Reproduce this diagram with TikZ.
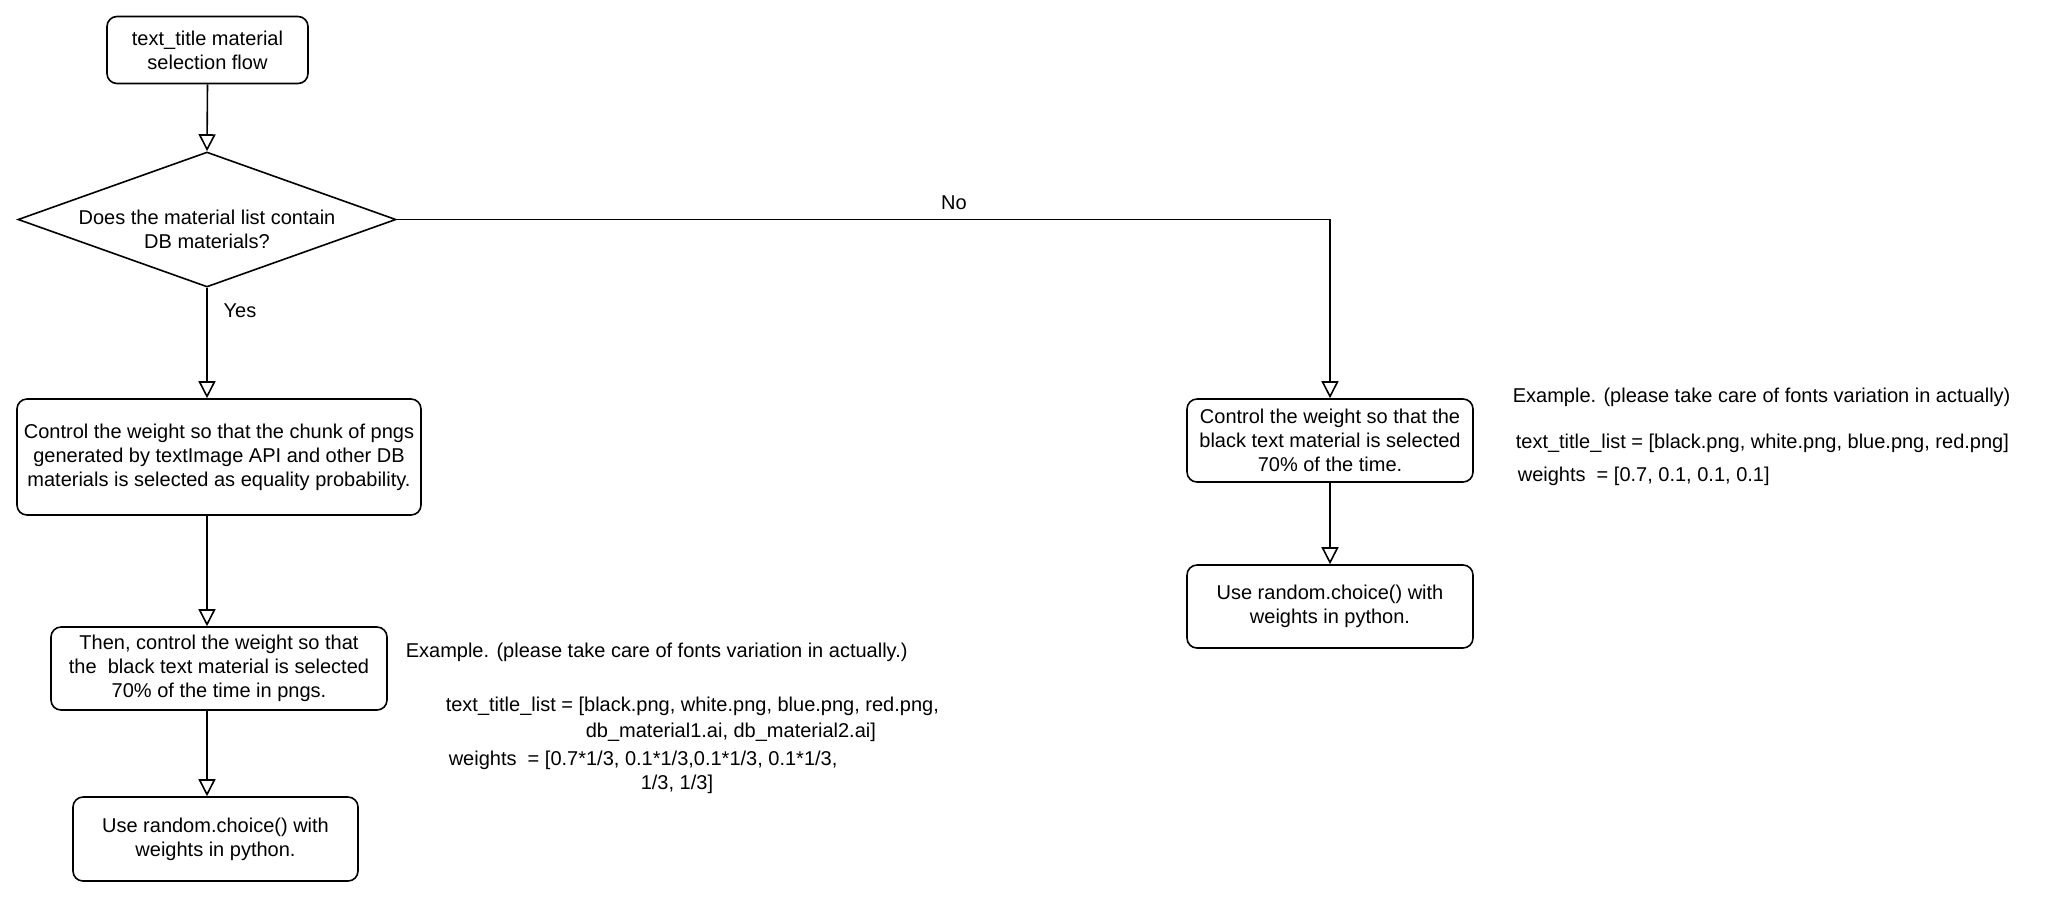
\documentclass[tikz,border=0pt]{standalone}
\usepackage{fontspec}
\setmainfont{Liberation Sans}
\usepackage{tikz}
\usetikzlibrary{arrows.meta}
\usetikzlibrary{positioning}
\usetikzlibrary{shapes.geometric}

\begin{document}
\begin{tikzpicture}[x=0.5pt,y=-0.5pt,line width=0.8pt,
    font=\fontsize{10}{12}\selectfont,
    box/.style={draw,rounded corners=5pt,align=center,inner sep=2pt},
    decision/.style={draw,diamond,inner sep=0pt,minimum width=189pt,minimum height=67.5pt},
    flow/.style={-{Triangle[open,length=8.5pt,width=8.5pt]}},
    lbl/.style={inner sep=0pt},
    code/.style={inner sep=0pt,anchor=west}]
  \useasboundingbox (0,0) rectangle (2048,901);
  \node[box,minimum width=100.5pt,minimum height=33.5pt](title) at (207.5,50) {text\_title material\\selection flow};
  \node[decision](dia) at (207,219.5) {};
  \node[align=center,inner sep=0pt](diatxt) at (207,229) {Does the material list contain\\DB materials?};
  \node[box,minimum width=202pt,minimum height=58pt](chunk) at (219,457) {Control the weight so that the chunk of pngs\\generated by textImage API and other DB\\materials is selected as equality probability.};
  \node[box,minimum width=168pt,minimum height=41.5pt](pick) at (219,668.5) {Then, control the weight so that\\the \ black text material is selected\\70\% of the time in pngs.};
  \node[box,minimum width=142.5pt,minimum height=42pt](usel) at (215.5,839) {Use random.choice() with\\weights in python.};
  \node[box,minimum width=143pt,minimum height=41.5pt](black) at (1330,440.5) {Control the weight so that the\\black text material is selected\\70\% of the time.};
  \node[box,minimum width=143pt,minimum height=41.5pt](user) at (1330,606.5) {Use random.choice() with\\weights in python.};

  \node[lbl](yes) at (240,311) {Yes};
  \node[lbl](no) at (954,203) {No};

  \draw[flow] (title.south) -- (dia.north);
  \draw[flow] (dia.south) -- (dia.south |- chunk.north);
  \draw[flow] (dia.south |- chunk.south) -- (dia.south |- pick.north);
  \draw[flow] (dia.south |- pick.south) -- (dia.south |- usel.north);
  \draw[flow] (dia.east) -| (black.north);
  \draw[flow] (black.south) -- (user.north);

  \node[code](exa) at (405,652) {Example. (please take care of fonts variation in actually.)};
  \node[code](exalist) at (445,706) {text\_title\_list = [black.png, white.png, blue.png, red.png,};
  \node[code](exalistb) at (585,732) {db\_material1.ai, db\_material2.ai]};
  \node[code](exaw) at (448,760) {weights \ = [0.7*1/3, 0.1*1/3,0.1*1/3, 0.1*1/3,};
  \node[code](exawb) at (640,784) {1/3, 1/3]};

  \node[code](exb) at (1512,397) {Example. (please take care of fonts variation in actually)};
  \node[code](exblist) at (1515,443) {text\_title\_list = [black.png, white.png, blue.png, red.png]};
  \node[code](exbw) at (1517,476) {weights \ = [0.7, 0.1, 0.1, 0.1]};
\end{tikzpicture}
\end{document}
